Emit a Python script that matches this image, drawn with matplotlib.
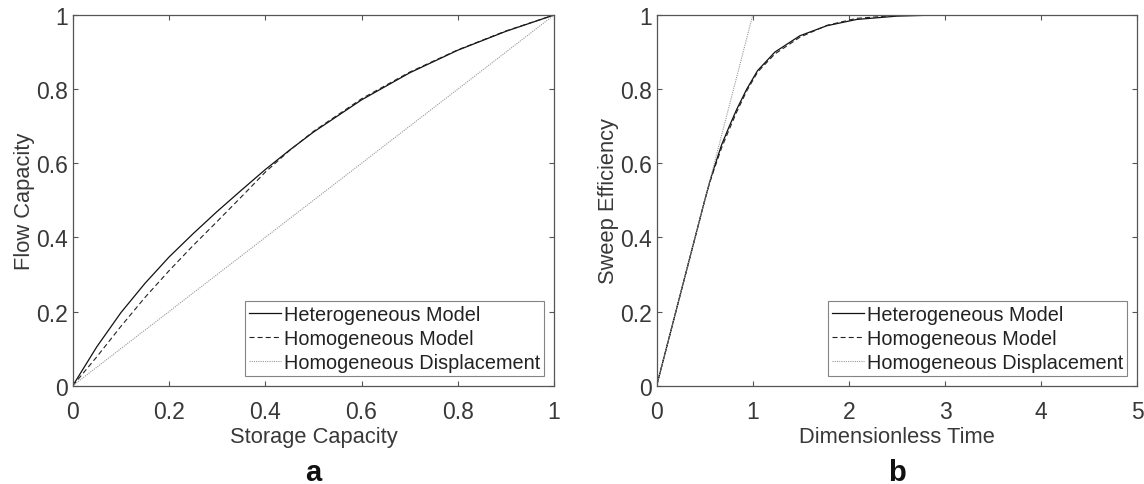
import matplotlib
matplotlib.use("Agg")
import matplotlib.pyplot as plt

plt.rcParams['font.family'] = ['Liberation Sans', 'DejaVu Sans']

# panel a: flow capacity vs storage capacity
storage = [0, 0.05, 0.1, 0.15, 0.2, 0.25, 0.3, 0.35, 0.4, 0.45, 0.5, 0.6, 0.7, 0.8, 0.9, 1.0]
flow_het = [0, 0.105, 0.197, 0.276, 0.347, 0.410, 0.470, 0.527, 0.583, 0.635, 0.684, 0.771, 0.844, 0.905, 0.956, 1.0]
flow_hom = [0, 0.078, 0.160, 0.238, 0.310, 0.378, 0.443, 0.509, 0.576, 0.634, 0.686, 0.774, 0.846, 0.906, 0.957, 1.0]
disp_x = [0, 1]
disp_y = [0, 1]

# panel b: sweep efficiency vs dimensionless time
time = [0, 0.2, 0.4, 0.5, 0.55, 0.6, 0.676, 0.756, 0.832, 0.937, 1.05, 1.23, 1.49, 1.77, 2.08, 2.5, 2.92]
sweep_het = [0, 0.2, 0.4, 0.5, 0.548, 0.590, 0.650, 0.700, 0.745, 0.800, 0.850, 0.900, 0.944, 0.971, 0.988, 0.997, 1.0]
sweep_hom = [0, 0.2, 0.4, 0.5, 0.546, 0.585, 0.642, 0.692, 0.738, 0.795, 0.846, 0.895, 0.940, 0.972, 0.991, 0.999, 1.0]
tdisp_x = [0, 1]
tdisp_y = [0, 1]

labels = ['Heterogeneous Model', 'Homogeneous Model', 'Homogeneous Displacement']
txt = '#383838'
edge = '#555555'

fig = plt.figure(figsize=(11.44, 4.85), dpi=100)
ax_a = fig.add_axes([0.0636, 0.2027, 0.4207, 0.7643])
ax_b = fig.add_axes([0.574, 0.2027, 0.4201, 0.7643])


def draw(ax, x, y1, y2, dx, dy, xlabel, ylabel, xlim, xticks, panel):
    ax.plot(x, y1, color='#111111', lw=0.9, label=labels[0])
    ax.plot(x, y2, color='#222222', lw=0.8, linestyle=(0, (4.5, 2.8)), label=labels[1])
    ax.plot(dx, dy, color='#999999', lw=0.8, linestyle=(0, (1, 1)), label=labels[2])
    ax.set_xlim(xlim)
    ax.set_ylim(0, 1)
    ax.set_xticks(xticks)
    ax.set_xticklabels([f'{t:g}' for t in xticks])
    ax.set_yticks([0, 0.2, 0.4, 0.6, 0.8, 1])
    ax.set_yticklabels(['0', '0.2', '0.4', '0.6', '0.8', '1'])
    ax.tick_params(direction='in', length=3.5, width=0.8, top=True, right=True,
                   labelsize=16.5, colors=edge, labelcolor=txt)
    ax.tick_params(axis='x', pad=10)
    ax.tick_params(axis='y', pad=3.5)
    for s in ax.spines.values():
        s.set_color(edge)
        s.set_linewidth(0.9)
    ax.set_xlabel(xlabel, fontsize=15.75, color=txt, labelpad=2.5)
    ax.set_ylabel(ylabel, fontsize=15.75, color=txt, labelpad=1)
    leg = ax.legend(loc='lower right', fontsize=14.3, frameon=True, fancybox=False,
                    handlelength=1.6, handletextpad=0.15, labelspacing=0.25,
                    borderpad=0.2, borderaxespad=0.5)
    leg.get_frame().set_edgecolor('#666666')
    leg.get_frame().set_linewidth(0.8)
    for t in leg.get_texts():
        t.set_color('#222222')
    ax.text(0.5, -0.255, panel, transform=ax.transAxes, ha='center', va='baseline',
            fontsize=21, fontweight='bold', color='#111111')


draw(ax_a, storage, flow_het, flow_hom, disp_x, disp_y,
     'Storage Capacity', 'Flow Capacity', (0, 1), [0, 0.2, 0.4, 0.6, 0.8, 1], 'a')
draw(ax_b, time, sweep_het, sweep_hom, tdisp_x, tdisp_y,
     'Dimensionless Time', 'Sweep Efficiency', (0, 5), [0, 1, 2, 3, 4, 5], 'b')

fig.savefig('out.png', dpi=100)
